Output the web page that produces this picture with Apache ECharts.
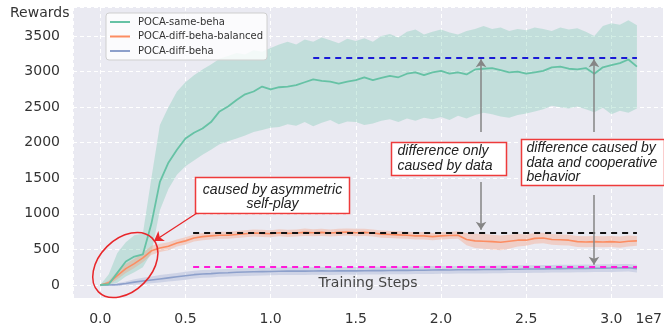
<!DOCTYPE html>
<html>
<head>
<meta charset="utf-8">
<script src="https://cdn.jsdelivr.net/npm/echarts@6/dist/echarts.min.js"></script>
<style>
  html, body { margin: 0; padding: 0; background: #ffffff; }
  #chart { width: 664px; height: 330px; }
</style>
</head>
<body>
<div id="chart"></div>
<script>
// Training steps (x axis, in units of 1e7)
const steps = [0.00, 0.05, 0.10, 0.15, 0.20, 0.25, 0.30, 0.35, 0.40, 0.45,
  0.50, 0.55, 0.60, 0.65, 0.70, 0.75, 0.80, 0.85, 0.90, 0.95,
  1.00, 1.05, 1.10, 1.15, 1.20, 1.25, 1.30, 1.35, 1.40, 1.45,
  1.50, 1.55, 1.60, 1.65, 1.70, 1.75, 1.80, 1.85, 1.90, 1.95,
  2.00, 2.05, 2.10, 2.15, 2.20, 2.25, 2.30, 2.35, 2.40, 2.45,
  2.50, 2.55, 2.60, 2.65, 2.70, 2.75, 2.80, 2.85, 2.90, 2.95,
  3.00, 3.05, 3.10, 3.15];

// POCA-same-beha: mean reward and spread
const sameMean = [0, 10, 170, 330, 400, 430, 860, 1450, 1720, 1900,
  2060, 2140, 2200, 2290, 2440, 2510, 2600, 2680, 2720, 2790,
  2750, 2780, 2790, 2810, 2850, 2890, 2870, 2860, 2830, 2860,
  2880, 2920, 2880, 2910, 2940, 2920, 2970, 2990, 2950, 2990,
  3010, 2970, 2990, 2960, 3030, 3040, 3050, 3020, 2990, 3000,
  2970, 2990, 3010, 3060, 3070, 3040, 3030, 3050, 2970, 3060,
  3090, 3120, 3170, 3070];
const sameUpper = [0, 150, 450, 600, 700, 720, 1500, 2250, 2500, 2720,
  2850, 2950, 3030, 3100, 3180, 3220, 3260, 3240, 3300, 3280,
  3330, 3380, 3420, 3380, 3450, 3420, 3480, 3440, 3400, 3460,
  3430, 3470, 3420, 3500, 3530, 3480, 3560, 3590, 3520, 3560,
  3590, 3550, 3520, 3570, 3600, 3640, 3600, 3620, 3570, 3600,
  3580, 3620, 3600, 3570, 3620, 3590, 3610, 3560, 3500, 3640,
  3680, 3660, 3720, 3650];
const sameLower = [0, 0, 30, 120, 180, 250, 450, 1050, 1350, 1550,
  1670, 1750, 1830, 1900, 1980, 2020, 2060, 2100, 2150, 2180,
  2210, 2220, 2260, 2240, 2290, 2230, 2280, 2320, 2260, 2300,
  2290, 2250, 2270, 2310, 2330, 2290, 2340, 2310, 2350, 2330,
  2360, 2320, 2380, 2340, 2390, 2420, 2400, 2370, 2350, 2390,
  2410, 2440, 2470, 2520, 2500, 2480, 2510, 2470, 2430, 2490,
  2400, 2450, 2420, 2480];

// POCA-diff-beha-balanced
const balancedMean = [0, 30, 130, 230, 300, 380, 480, 520, 545, 590,
  620, 660, 680, 690, 700, 700, 710, 720, 730, 725,
  720, 735, 725, 730, 740, 735, 740, 730, 740, 745,
  735, 740, 730, 715, 710, 705, 700, 690, 690, 680,
  690, 695, 700, 640, 620, 615, 610, 600, 615, 630,
  630, 655, 660, 640, 635, 630, 610, 605, 610, 605,
  610, 600, 615, 620];
const balancedUpper = [0, 60, 190, 300, 370, 450, 550, 580, 600, 640,
  670, 710, 730, 740, 750, 750, 760, 770, 780, 775,
  770, 785, 775, 780, 795, 785, 790, 780, 790, 795,
  790, 790, 780, 765, 760, 755, 750, 740, 745, 730,
  740, 745, 755, 730, 720, 715, 705, 695, 705, 715,
  710, 730, 735, 715, 710, 705, 690, 685, 690, 685,
  690, 680, 695, 690];
const balancedLower = [0, 5, 80, 170, 240, 320, 420, 465, 490, 540,
  570, 610, 630, 640, 650, 650, 660, 670, 680, 675,
  670, 685, 675, 680, 690, 685, 690, 680, 690, 695,
  685, 690, 680, 665, 660, 655, 650, 640, 640, 630,
  640, 645, 650, 560, 520, 510, 500, 490, 510, 540,
  550, 580, 585, 565, 560, 555, 535, 530, 535, 530,
  535, 525, 540, 550];

// POCA-diff-beha
const diffMean = [0, 0, 5, 20, 40, 55, 70, 85, 100, 115,
  130, 145, 155, 160, 168, 172, 178, 182, 185, 188,
  190, 193, 195, 196, 195, 197, 198, 196, 199, 200,
  199, 201, 203, 202, 204, 206, 205, 207, 208, 210,
  212, 211, 214, 215, 214, 217, 218, 220, 221, 222,
  224, 225, 227, 228, 230, 231, 232, 233, 235, 236,
  238, 240, 242, 230];
const diffUpper = [0, 5, 25, 50, 80, 100, 120, 140, 155, 170,
  185, 200, 210, 215, 222, 226, 232, 236, 239, 242,
  244, 247, 249, 250, 249, 251, 252, 250, 253, 254,
  253, 255, 257, 256, 258, 260, 259, 261, 262, 264,
  266, 265, 268, 269, 268, 271, 272, 274, 275, 276,
  278, 279, 281, 282, 284, 285, 286, 287, 289, 290,
  292, 294, 296, 284];
const diffLower = [0, -3, -10, -5, 5, 15, 25, 35, 48, 60,
  75, 90, 100, 105, 114, 118, 124, 128, 131, 134,
  136, 139, 141, 142, 141, 143, 144, 142, 145, 146,
  145, 147, 149, 148, 150, 152, 151, 153, 154, 156,
  158, 157, 160, 161, 160, 163, 164, 166, 167, 168,
  170, 171, 173, 174, 176, 177, 178, 179, 181, 182,
  184, 186, 188, 176];

// Reference levels (dashed) and their x extents
const sameLevel = 3200, balancedLevel = 740, diffLevel = 260;
const sameLevelRange = [1.25, 3.15];
const lowLevelRange = [0.545, 3.15];

const seriesNames = ['POCA-same-beha', 'POCA-diff-beha-balanced', 'POCA-diff-beha'];
const colors = ['#66c2a5', '#fc8d62', '#8da0cb'];

const FONT = 'DejaVu Sans';

function pairs(xs, ys) { return xs.map((x, i) => [x, ys[i]]); }

// Shaded spread between lower and upper curves, drawn as one polygon
function band(lower, upper, color, opacity) {
  return {
    type: 'custom', silent: true, z: 1,
    data: steps.map((x, i) => [x, lower[i], upper[i]]),
    encode: { x: 0, y: [1, 2] },
    renderItem: (params, api) => {
      if (params.dataIndex !== 0) return null;
      const top = steps.map((x, i) => api.coord([x, upper[i]]));
      const bottom = steps.map((x, i) => api.coord([x, lower[i]])).reverse();
      return {
        type: 'polygon',
        shape: { points: top.concat(bottom) },
        style: { fill: color, opacity: opacity }
      };
    }
  };
}

function seg(x1, y1, x2, y2) { return [{ coord: [x1, y1] }, { coord: [x2, y2] }]; }

const chart = echarts.init(document.getElementById('chart'), null, { renderer: 'canvas' });

const option = {
  animation: false,
  backgroundColor: '#ffffff',
  grid: { left: 73, right: 1, top: 7, bottom: 32, show: true, containLabel: false,
          outerBoundsMode: 'none',
          backgroundColor: '#eaeaf2', borderWidth: 0 },
  legend: {
    data: seriesNames, left: 106, top: 13, orient: 'vertical',
    icon: 'rect', itemWidth: 20, itemHeight: 2, itemGap: 2.5,
    padding: [3, 4, 3, 4],
    backgroundColor: 'rgba(255,255,255,0.8)', borderColor: '#cfcfcf', borderWidth: 1, borderRadius: 3,
    textStyle: { fontFamily: FONT, fontSize: 10, color: '#333', padding: [0, 0, 0, 3], lineHeight: 12 },
    selectedMode: false
  },
  xAxis: {
    type: 'value', min: -0.16, max: 3.303, splitNumber: 7,
    axisLine: { show: false }, axisTick: { show: false },
    axisLabel: { fontFamily: FONT, fontSize: 14, color: '#333', margin: 14,
                 showMinLabel: false, showMaxLabel: false,
                 formatter: v => v.toFixed(1) },
    splitLine: { show: true, lineStyle: { color: '#ffffff', width: 1, type: [4, 3] } }
  },
  yAxis: {
    type: 'value', min: -183, max: 3908, splitNumber: 8,
    axisLine: { show: false }, axisTick: { show: false },
    axisLabel: { fontFamily: FONT, fontSize: 14, color: '#333', margin: 13,
                 showMinLabel: false, showMaxLabel: false,
                 formatter: v => String(v) },
    splitLine: { show: true, lineStyle: { color: '#ffffff', width: 1, type: [4, 3] } }
  },
  series: [
    band(sameLower, sameUpper, colors[0], 0.3),
    band(balancedLower, balancedUpper, colors[1], 0.3),
    band(diffLower, diffUpper, colors[2], 0.3),
    {
      type: 'line', name: seriesNames[2], data: pairs(steps, diffMean), symbol: 'none',
      lineStyle: { color: colors[2], width: 1.6 }, itemStyle: { color: colors[2] }, z: 3,
      markLine: {
        silent: true, symbol: 'none', label: { show: false },
        data: [
          [{ coord: [sameLevelRange[0], sameLevel], lineStyle: { color: '#1a1ad6' } },
           { coord: [sameLevelRange[1], sameLevel] }],
          [{ coord: [lowLevelRange[0], balancedLevel], lineStyle: { color: '#111111' } },
           { coord: [lowLevelRange[1], balancedLevel] }],
          [{ coord: [lowLevelRange[0], diffLevel], lineStyle: { color: '#ff1ad9' } },
           { coord: [lowLevelRange[1], diffLevel] }]
        ],
        lineStyle: { width: 2, type: [6, 5], opacity: 1 }
      }
    },
    {
      type: 'line', name: seriesNames[1], data: pairs(steps, balancedMean), symbol: 'none',
      lineStyle: { color: colors[1], width: 1.6 }, itemStyle: { color: colors[1] }, z: 3,
      markLine: {
        silent: true, symbol: ['none', 'arrow'], symbolSize: 9, label: { show: false },
        lineStyle: { color: '#e8262a', width: 1.3, type: 'solid', opacity: 1 },
        data: [seg(0.568, 1013, 0.316, 619)]
      }
    },
    {
      type: 'line', name: seriesNames[0], data: pairs(steps, sameMean), symbol: 'none',
      lineStyle: { color: colors[0], width: 1.8 }, itemStyle: { color: colors[0] }, z: 3,
      markLine: {
        silent: true, symbol: ['none', 'arrow'], symbolSize: 8, label: { show: false },
        lineStyle: { color: '#858585', width: 1.5, type: 'solid', opacity: 1 },
        data: [
          seg(2.235, 2150, 2.235, 3175),
          seg(2.235, 1449, 2.235, 775),
          seg(2.898, 2150, 2.898, 3175),
          seg(2.898, 1266, 2.898, 285)
        ]
      }
    }
  ]
};

chart.setOption(option);

// Annotation callouts anchored at data positions
const toPx = (x, y) => chart.convertToPixel({ gridIndex: 0 }, [x, y]);

function callout(anchor, w, h, text, opts) {
  const p = toPx(anchor[0], anchor[1]);
  const center = opts.align === 'center';
  return {
    type: 'group', x: Math.round(p[0]) + 0.5, y: Math.round(p[1]) + 0.5, z: 100,
    children: [
      { type: 'rect', shape: { x: 0, y: 0, width: w, height: h },
        style: { fill: '#ffffff', stroke: '#ee3b3b', lineWidth: 1.5 } },
      { type: 'text', x: center ? w / 2 : opts.padX, y: opts.padY,
        style: { text: text, fontStyle: 'italic', fontSize: 14,
                 fontFamily: '"Liberation Sans", Arial, sans-serif', fill: '#222222',
                 lineHeight: opts.lineHeight, align: center ? 'center' : 'left',
                 verticalAlign: 'top' } }
    ]
  };
}

const circ = toPx(0.147, 281);
const gridRect = chart.getModel().getComponent('grid', 0).coordinateSystem.getRect();

chart.setOption({
  graphic: [
    { type: 'text', left: 10, top: 6, z: 100,
      style: { text: 'Rewards', fontSize: 14, fontFamily: FONT, fill: '#333333' } },
    { type: 'text', right: 2, top: 312, z: 100,
      style: { text: '1e7', fontSize: 14, fontFamily: FONT, fill: '#333333' } },
    // x-axis title, centred on the plot just above its bottom edge
    { type: 'text', x: gridRect.x + gridRect.width / 2, y: gridRect.y + gridRect.height - 15, z: 50,
      style: { text: 'Training Steps', fontSize: 14, fontFamily: FONT, fill: '#444444',
               align: 'center', verticalAlign: 'middle' } },
    callout([1.705, 2006], 115, 33, 'difference only\ncaused by data',
            { padX: 6, padY: 1.5, lineHeight: 14.6 }),
    callout([2.468, 2052], 143, 46, 'difference caused by\ndata and cooperative\nbehavior',
            { padX: 5, padY: 2, lineHeight: 14.2 }),
    callout([0.556, 1522], 154, 36, 'caused by asymmetric\nself-play',
            { align: 'center', padY: 6, lineHeight: 14 }),
    { type: 'ellipse', x: circ[0], y: circ[1], rotation: Math.PI / 4, z: 100,
      shape: { cx: 0, cy: 0, rx: 38, ry: 26 },
      style: { fill: 'none', stroke: '#e8262a', lineWidth: 1.5 } }
  ]
});
</script>
</body>
</html>
